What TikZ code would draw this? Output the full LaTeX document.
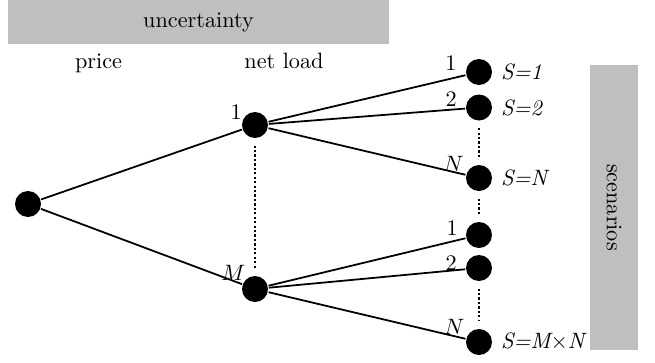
\documentclass[tikz,border=0pt]{standalone}
\usepackage{amsmath}
\usetikzlibrary{positioning}
\tikzstyle{tree}=[x=0.45pt,y=-0.45pt,line width=0.8pt]
\tikzstyle{st}=[circle,fill=black,minimum size=11.7pt,inner sep=0pt]
\tikzstyle{band}=[fill=black!25,inner sep=0pt]
\tikzstyle{lab}=[anchor=center]
\tikzstyle{dots}=[dash pattern=on 1pt off 1pt,shorten >=3pt,shorten <=3pt]
\begin{document}
\begin{tikzpicture}[tree]
      \useasboundingbox (0,0) rectangle (655,363);
      % grey bands
      \node[band,minimum width=171.45pt,minimum height=19.8pt] (unc) at (198.5,22) {uncertainty};
      \node[band,rotate=-90,minimum width=128.25pt,minimum height=21.6pt] (scen) at (614,207.5) {scenarios};
      \node[anchor=base] (price) at (98.5,68) {price};
      \node[anchor=base] (load) at (284,68) {net load};
      % tree
      \node[st] (r) at (28,204) {};
      \node[st,label={[lab,label distance=3.9pt]146:1}] (p_1) at (255,125) {};
      \node[st,label={[lab,label distance=5.8pt]144:$M$}] (p_M) at (255,289) {};
      \node[st,label={[lab,label distance=7pt]162:1},label={right:\textit{S=1}}] (l_11) at (479,72) {};
      \node[st,label={[lab,label distance=6.8pt]164:2},label={right:\textit{S=2}}] (l_12) at (479,107.5) {};
      \node[st,label={[lab,label distance=6.8pt]152:$N$},label={right:\textit{S=N}}] (l_1N) at (479,178) {};
      \node[st,label={[lab,label distance=6.3pt]165:1}] (l_M1) at (479,235) {};
      \node[st,label={[lab,label distance=6.5pt]170:2}] (l_M2) at (479,268) {};
      \node[st,label={[lab,label distance=6.9pt]148:$N$},label={right:\textit{S=M$\times$N}}] (l_MN) at (479,342) {};
      \path
        (r) edge (p_1)
        (r) edge (p_M)
        (p_1) edge (l_11)
        (p_1) edge (l_12)
        (p_1) edge (l_1N)
        (p_M) edge (l_M1)
        (p_M) edge (l_M2)
        (p_M) edge (l_MN);
      \path[dots]
        (p_1) edge (p_M)
        (l_12) edge (l_1N)
        (l_1N) edge (l_M1)
        (l_M2) edge (l_MN);
    \end{tikzpicture}
\end{document}
